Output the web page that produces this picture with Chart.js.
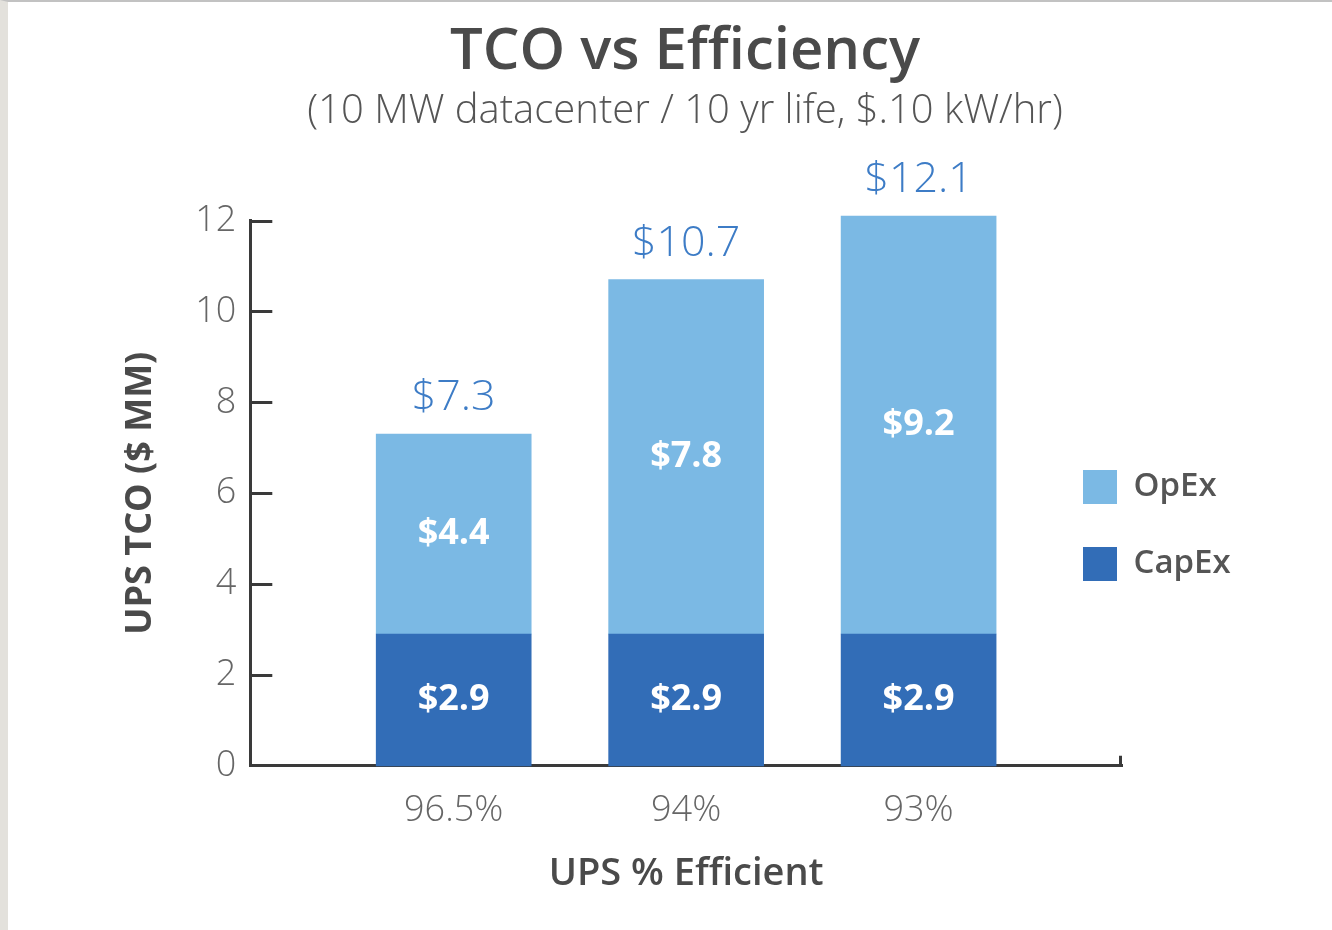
<!DOCTYPE html>
<html>
<head>
<meta charset="utf-8">
<script src="https://cdn.jsdelivr.net/npm/chart.js@4/dist/chart.umd.min.js"></script>
<style>
    html, body { margin: 0; padding: 0; background: #fff; }
    .frame {
        width: 1324px;
        height: 928px;
        border-left: 8px solid #e3e1dc;
        border-top: 2px solid #c2c2c2;
        background: #fff;
    }
    canvas { display: block; }
</style>
</head>
<body>
<div class="frame">
    <canvas id="tcoChart" width="1324" height="928"></canvas>
</div>
<script>
const categories = ['96.5%', '94%', '93%'];
const capex = [2.9, 2.9, 2.9];
const opex = [4.4, 7.8, 9.2];
const yTicks = [0, 2, 4, 6, 8, 10, 12];

const FONT = '"Open Sans", "Noto Sans", sans-serif';
const AXIS_COLOR = '#3a3a3a';

const toPoints = values => values.map((v, i) => ({ x: i + 1, y: v }));
const money = v => '$' + v.toFixed(1);

// short tick marks drawn inside the plot, plus the little end tick of the x axis
const axisMarks = {
    id: 'axisMarks',
    afterDatasetsDraw(chart) {
        const { ctx, chartArea, scales } = chart;
        ctx.save();
        ctx.strokeStyle = AXIS_COLOR;
        ctx.lineWidth = 3;
        ctx.beginPath();
        yTicks.slice(1).forEach(t => {
            const y = Math.round(scales.y.getPixelForValue(t)) + 0.5;
            ctx.moveTo(chartArea.left, y);
            ctx.lineTo(chartArea.left + 22, y);
        });
        ctx.moveTo(chartArea.right - 1.5, chartArea.bottom);
        ctx.lineTo(chartArea.right - 1.5, chartArea.bottom - 10);
        ctx.stroke();
        ctx.restore();
    }
};

// value labels: inside each segment and the total above the stack
const barLabels = {
    id: 'barLabels',
    afterDatasetsDraw(chart) {
        const { ctx } = chart;
        ctx.save();
        ctx.textAlign = 'center';
        ctx.textBaseline = 'middle';
        chart.data.datasets.forEach((ds, di) => {
            chart.getDatasetMeta(di).data.forEach((bar, i) => {
                const { x, y, base } = bar.getProps(['x', 'y', 'base'], true);
                ctx.fillStyle = '#ffffff';
                ctx.font = `bold 36px ${FONT}`;
                ctx.fillText(money(ds.data[i].y), x, (y + base) / 2);
            });
        });
        const top = chart.getDatasetMeta(chart.data.datasets.length - 1).data;
        top.forEach((bar, i) => {
            const { x, y } = bar.getProps(['x', 'y'], true);
            ctx.fillStyle = '#3d7cc6';
            ctx.font = `300 43px ${FONT}`;
            ctx.fillText(money(capex[i] + opex[i]), x, y - 36);
        });
        ctx.restore();
    }
};

// move the legend to the right of the bars
const legendSpot = {
    id: 'legendSpot',
    afterUpdate(chart) {
        const lg = chart.legend;
        lg.left = 1032;
        lg.top = 425;
        lg.right = 1324;
        lg.bottom = 700;
        lg.width = lg.right - lg.left;
        lg.height = lg.bottom - lg.top;
    }
};

new Chart(document.getElementById('tcoChart'), {
    type: 'bar',
    data: {
        datasets: [{
            label: 'CapEx',
            data: toPoints(capex),
            backgroundColor: '#326db7',
            borderWidth: 0,
            clip: false
        }, {
            label: 'OpEx',
            data: toPoints(opex),
            backgroundColor: '#7bb9e4',
            borderWidth: 0,
            clip: false
        }]
    },
    options: {
        responsive: false,
        animation: false,
        barThickness: 155,
        layout: {
            padding: { left: 30, right: 0, top: 0, bottom: 37 }
        },
        scales: {
            x: {
                type: 'linear',
                stacked: true,
                offset: false,
                min: 0.125,
                max: 3.875,
                afterBuildTicks: axis => {
                    axis.ticks = categories.map((_, i) => ({ value: i + 1 }));
                },
                ticks: {
                    callback: value => categories[value - 1],
                    color: '#666666',
                    font: { family: FONT, size: 36, weight: 300 },
                    padding: 23,
                    maxRotation: 0
                },
                grid: { display: false, drawTicks: false },
                border: { display: true, color: AXIS_COLOR, width: 3 },
                title: {
                    display: true,
                    text: 'UPS % Efficient',
                    color: '#4a4a4a',
                    font: { family: FONT, size: 38, weight: 600, lineHeight: 1 },
                    padding: { top: 0, bottom: 0 }
                }
            },
            y: {
                stacked: true,
                min: 0,
                max: 12,
                afterBuildTicks: axis => {
                    axis.ticks = yTicks.map(v => ({ value: v }));
                },
                ticks: {
                    color: '#666666',
                    font: { family: FONT, size: 36, weight: 300 },
                    padding: 14
                },
                grid: { display: false, drawTicks: false },
                border: { display: true, color: AXIS_COLOR, width: 3 },
                title: {
                    display: true,
                    text: 'UPS TCO ($ MM)',
                    color: '#4a4a4a',
                    font: { family: FONT, size: 36, weight: 700 },
                    padding: { top: 81, bottom: 19 }
                }
            },
            // empty axis that only reserves the room where the legend sits
            spacer: {
                type: 'linear',
                position: 'right',
                ticks: { display: false },
                grid: { display: false, drawTicks: false },
                border: { display: false },
                afterFit: axis => { axis.width = 210; }
            }
        },
        plugins: {
            title: {
                display: true,
                text: 'TCO vs Efficiency',
                color: '#4a4a4a',
                font: { family: FONT, size: 58, weight: 600, lineHeight: 1.2 },
                padding: { top: 16, bottom: 0 }
            },
            subtitle: {
                display: true,
                text: '(10 MW datacenter / 10 yr life, $.10 kW/hr)',
                color: '#555555',
                font: { family: FONT, size: 40, weight: 300, lineHeight: 1.2 },
                padding: { top: 0, bottom: 85 }
            },
            legend: {
                position: 'chartArea',
                align: 'start',
                reverse: true,
                labels: {
                    boxWidth: 34,
                    boxHeight: 34,
                    padding: 43,
                    color: '#555555',
                    font: { family: FONT, size: 33, weight: 600 }
                }
            },
            tooltip: { enabled: false }
        }
    },
    plugins: [axisMarks, barLabels, legendSpot]
});
</script>
</body>
</html>
